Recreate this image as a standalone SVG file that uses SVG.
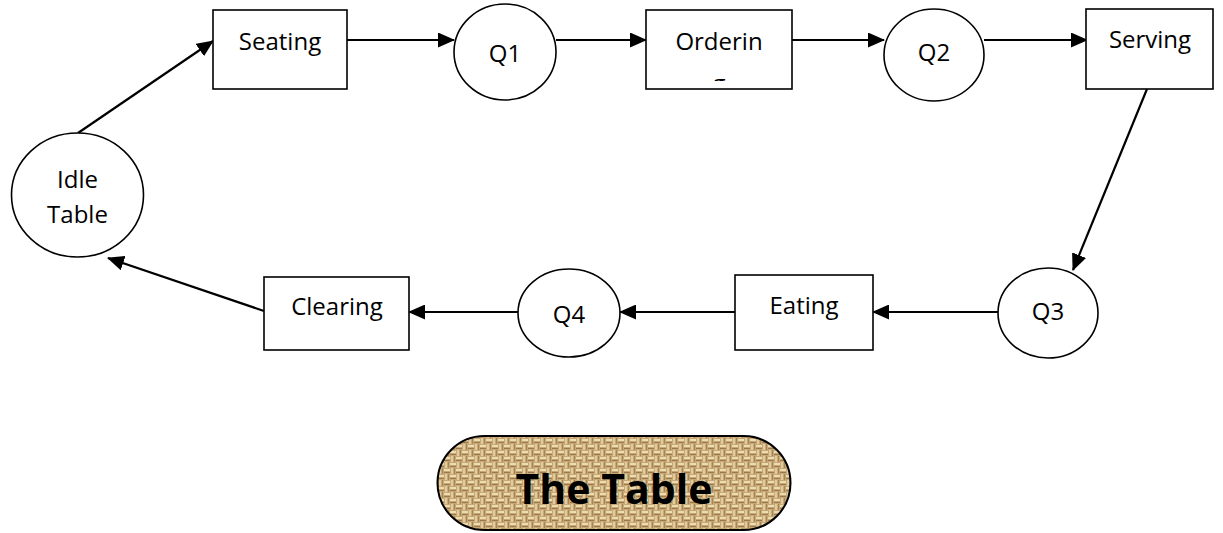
<svg xmlns="http://www.w3.org/2000/svg" width="1223" height="533" viewBox="0 0 1223 533">
  <style>
    .box { fill: #ffffff; stroke: #000000; stroke-width: 1.6; }
    .lbl { font-family: "Open Sans", "Noto Sans", "Liberation Sans", sans-serif; font-size: 24px; fill: #000000; text-anchor: middle; }
    .edge { fill: none; stroke: #000000; stroke-width: 2.2; marker-end: url(#arrow); }
    .title { font-family: "Open Sans", "Noto Sans", "Liberation Sans", sans-serif; font-size: 41px; font-weight: bold; fill: #000000; text-anchor: middle; }
  </style>
  <defs>
    <marker id="arrow" markerUnits="userSpaceOnUse" markerWidth="17" markerHeight="15" refX="16" refY="7.5" orient="auto">
      <path d="M0,0 L17,7.5 L0,15 Z" fill="#000000"/>
    </marker>
    <clipPath id="orderClip">
      <rect x="647" y="11" width="144" height="70"/>
    </clipPath>
    <!-- woven burlap texture -->
    <pattern id="burlap" patternUnits="userSpaceOnUse" width="12" height="12">
      <rect width="12" height="12" fill="#c7a977"/>
      <rect x="0" y="1" width="6" height="2" fill="#eddcb2"/>
      <rect x="6" y="7" width="6" height="2" fill="#eddcb2"/>
      <rect x="7" y="0" width="2" height="6" fill="#e2cb9c"/>
      <rect x="1" y="6" width="2" height="6" fill="#e2cb9c"/>
      <rect x="0" y="4" width="6" height="1" fill="#9a7a4c"/>
      <rect x="6" y="10" width="6" height="1" fill="#9a7a4c"/>
      <rect x="10" y="0" width="1" height="6" fill="#a58456"/>
      <rect x="4" y="6" width="1" height="6" fill="#a58456"/>
    </pattern>
  </defs>

  <g id="connectors">
    <line class="edge" x1="78" y1="133" x2="213" y2="41"/>
    <line class="edge" x1="347" y1="40" x2="454" y2="40"/>
    <line class="edge" x1="556" y1="40" x2="646" y2="40"/>
    <line class="edge" x1="792" y1="40" x2="884" y2="40"/>
    <line class="edge" x1="984" y1="40" x2="1087" y2="40"/>
    <line class="edge" x1="1147" y1="89" x2="1073" y2="270"/>
    <line class="edge" x1="998" y1="312" x2="873" y2="312"/>
    <line class="edge" x1="735" y1="312" x2="620" y2="312"/>
    <line class="edge" x1="518" y1="312" x2="409" y2="312"/>
    <line class="edge" x1="264" y1="311" x2="108" y2="258"/>
  </g>

  <g id="idle-table">
    <ellipse class="box" cx="77.5" cy="195" rx="66" ry="62"/>
    <text class="lbl" x="77.5" y="188">Idle</text>
    <text class="lbl" x="77.5" y="223">Table</text>
  </g>

  <g id="seating">
    <rect class="box" x="213" y="10" width="134" height="79"/>
    <text class="lbl" x="280" y="50">Seating</text>
  </g>

  <g id="q1">
    <ellipse class="box" cx="505" cy="52" rx="51" ry="48"/>
    <text class="lbl" x="505" y="62">Q1</text>
  </g>

  <g id="ordering">
    <rect class="box" x="646" y="10" width="146" height="79"/>
    <g clip-path="url(#orderClip)">
      <text class="lbl" x="719" y="50">Orderin</text>
      <text class="lbl" x="719" y="92">g</text>
    </g>
  </g>

  <g id="q2">
    <ellipse class="box" cx="934" cy="55" rx="50" ry="46"/>
    <text class="lbl" x="934" y="61">Q2</text>
  </g>

  <g id="serving">
    <rect class="box" x="1086" y="9" width="127" height="80"/>
    <text class="lbl" x="1150" y="48">Serving</text>
  </g>

  <g id="q3">
    <ellipse class="box" cx="1048" cy="313" rx="50" ry="45"/>
    <text class="lbl" x="1048" y="320">Q3</text>
  </g>

  <g id="eating">
    <rect class="box" x="735" y="275" width="138" height="75"/>
    <text class="lbl" x="804" y="314">Eating</text>
  </g>

  <g id="q4">
    <ellipse class="box" cx="569" cy="313" rx="51" ry="44"/>
    <text class="lbl" x="569" y="323">Q4</text>
  </g>

  <g id="clearing">
    <rect class="box" x="264" y="277" width="145" height="73"/>
    <text class="lbl" x="337" y="315">Clearing</text>
  </g>

  <g id="the-table">
    <rect x="437.5" y="436" width="353" height="94" rx="47" ry="47" fill="url(#burlap)" stroke="#000000" stroke-width="2"/>
    <text class="title" x="614" y="504">The Table</text>
  </g>
</svg>
